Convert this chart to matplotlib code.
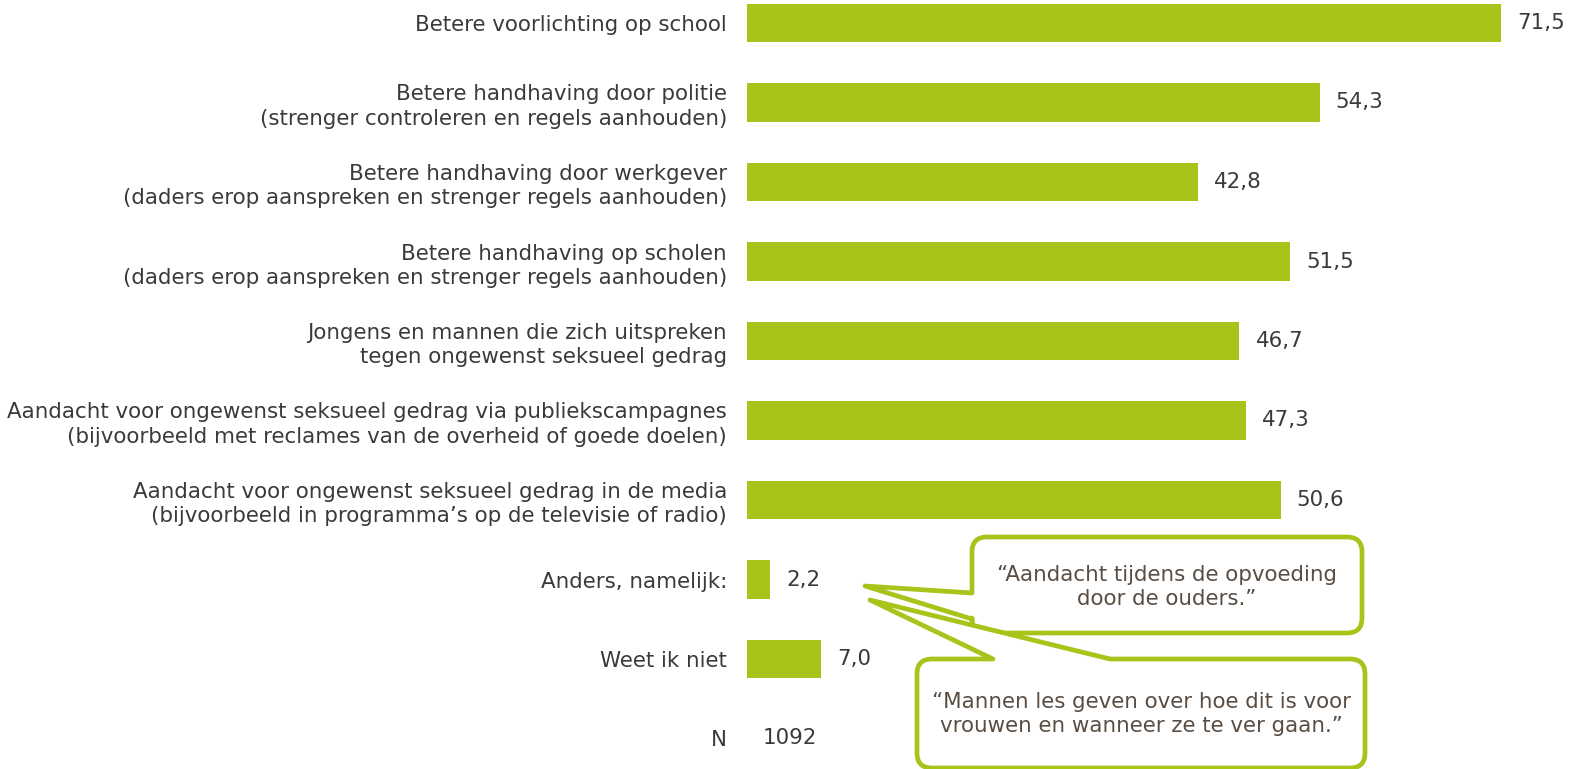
import matplotlib
matplotlib.use("Agg")
import matplotlib.pyplot as plt
from matplotlib.path import Path
from matplotlib.patches import PathPatch
from matplotlib.transforms import Affine2D

plt.rcParams['font.family'] = ['DejaVu Sans']

categories = [
    "Betere voorlichting op school",
    "Betere handhaving door politie\n(strenger controleren en regels aanhouden)",
    "Betere handhaving door werkgever\n(daders erop aanspreken en strenger regels aanhouden)",
    "Betere handhaving op scholen\n(daders erop aanspreken en strenger regels aanhouden)",
    "Jongens en mannen die zich uitspreken\ntegen ongewenst seksueel gedrag",
    "Aandacht voor ongewenst seksueel gedrag via publiekscampagnes\n(bijvoorbeeld met reclames van de overheid of goede doelen)",
    "Aandacht voor ongewenst seksueel gedrag in de media\n(bijvoorbeeld in programma\u2019s op de televisie of radio)",
    "Anders, namelijk:",
    "Weet ik niet",
]
values = [71.5, 54.3, 42.8, 51.5, 46.7, 47.3, 50.6, 2.2, 7.0]
value_labels = ["71,5", "54,3", "42,8", "51,5", "46,7", "47,3", "50,6", "2,2", "7,0"]
n_label = "N"
n_value = "1092"
quotes = [
    "\u201cAandacht tijdens de opvoeding\ndoor de ouders.\u201d",
    "\u201cMannen les geven over hoe dit is voor\nvrouwen en wanneer ze te ver gaan.\u201d",
]

GREEN = "#A9C31A"
TXT = "#3a3a3a"
QTXT = "#594d43"
W, H = 1573, 769
FS = 15.4
LS = 1.27

fig = plt.figure(figsize=(W / 100, H / 100), dpi=100)
ax = fig.add_axes([747 / W, 0, (W - 747) / W, 1])
rows = list(range(len(categories)))
ax.barh(rows, values, height=0.49, color=GREEN)
ax.set_xlim(0, (W - 747) / 10.545)
ax.set_ylim((H - 23) / 79.5, -23 / 79.5)
ax.set_yticks(rows + [len(categories)])
ax.set_yticklabels(categories + [n_label], fontsize=FS, color=TXT, ha="right",
                   linespacing=LS)
ax.tick_params(axis="y", length=0, pad=14.4)
ax.set_xticks([])
for s in ax.spines.values():
    s.set_visible(False)
ax.patch.set_alpha(0)

for r, v, lab in zip(rows, values, value_labels):
    ax.annotate(lab, (v, r), xytext=(16, 0), textcoords="offset pixels",
                va="center", ha="left", fontsize=FS, color=TXT)
ax.annotate(n_value, (0, len(categories)), xytext=(16, 0), textcoords="offset pixels",
            va="center", ha="left", fontsize=FS, color=TXT)

# pixel transform (origin top-left)
pix = Affine2D().scale(1 / W, -1 / H).translate(0, 1) + fig.transFigure


def bubble_left(x0, y0, x1, y1, r, j_top, tip, j_bot):
    v = [(x0 + r, y0), (x1 - r, y0)]
    c = [Path.MOVETO, Path.LINETO]
    v += [(x1, y0), (x1, y0 + r)]; c += [Path.CURVE3, Path.CURVE3]
    v += [(x1, y1 - r)]; c += [Path.LINETO]
    v += [(x1, y1), (x1 - r, y1)]; c += [Path.CURVE3, Path.CURVE3]
    v += [(x0 + r, y1)]; c += [Path.LINETO]
    v += [(x0, y1), (x0, y1 - r)]; c += [Path.CURVE3, Path.CURVE3]
    v += [(x0, j_bot), tip, (x0, j_top), (x0, y0 + r)]; c += [Path.LINETO] * 4
    v += [(x0, y0), (x0 + r, y0)]; c += [Path.CURVE3, Path.CURVE3]
    v += [(x0 + r, y0)]; c += [Path.CLOSEPOLY]
    return Path(v, c)


def bubble_top(x0, y0, x1, y1, r, j_left, tip, j_right):
    v = [(x0 + r, y0), (j_left, y0), tip, (j_right, y0), (x1 - r, y0)]
    c = [Path.MOVETO] + [Path.LINETO] * 4
    v += [(x1, y0), (x1, y0 + r)]; c += [Path.CURVE3, Path.CURVE3]
    v += [(x1, y1 - r)]; c += [Path.LINETO]
    v += [(x1, y1), (x1 - r, y1)]; c += [Path.CURVE3, Path.CURVE3]
    v += [(x0 + r, y1)]; c += [Path.LINETO]
    v += [(x0, y1), (x0, y1 - r)]; c += [Path.CURVE3, Path.CURVE3]
    v += [(x0, y0 + r)]; c += [Path.LINETO]
    v += [(x0, y0), (x0 + r, y0)]; c += [Path.CURVE3, Path.CURVE3]
    v += [(x0 + r, y0)]; c += [Path.CLOSEPOLY]
    return Path(v, c)


p1 = bubble_left(972, 537, 1362, 633, 15, 593, (865, 586), 619)
p2 = bubble_top(917, 659, 1365, 768, 15, 993, (870, 600), 1110)
for p, z in ((p1, 5), (p2, 6)):
    fig.add_artist(PathPatch(p, transform=pix, facecolor="white", edgecolor=GREEN,
                             lw=3.4, joinstyle="round", zorder=z))

fig.text(1167 / W, 1 - 587 / H, quotes[0], ha="center", va="center",
         fontsize=FS, color=QTXT, linespacing=LS, zorder=7)
fig.text(1141 / W, 1 - 714 / H, quotes[1], ha="center", va="center",
         fontsize=FS, color=QTXT, linespacing=LS, zorder=7)

fig.savefig("out.png", dpi=100)
